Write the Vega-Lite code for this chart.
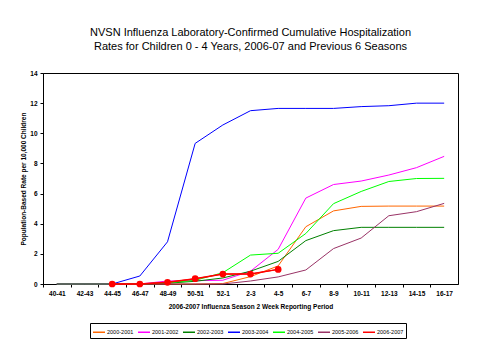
{
  "$schema": "https://vega.github.io/schema/vega-lite/v6.json",
  "width": 415,
  "height": 211,
  "autosize": "none",
  "padding": {"left": 43, "top": 73, "right": 21, "bottom": 76},
  "background": "white",
  "title": {
    "text": ["NVSN Influenza Laboratory-Confirmed Cumulative Hospitalization", "Rates for Children 0 - 4 Years, 2006-07 and Previous 6 Seasons"],
    "font": "Liberation Sans",
    "fontSize": 11,
    "fontWeight": "normal",
    "lineHeight": 14,
    "offset": 18,
    "anchor": "middle",
    "color": "black"
  },
  "config": {
    "view": {"stroke": "black", "strokeWidth": 1},
    "axis": {
      "domainColor": "black",
      "tickColor": "black",
      "labelColor": "black",
      "titleColor": "black",
      "labelFont": "Liberation Sans",
      "titleFont": "Liberation Sans",
      "labelFontWeight": "bold",
      "titleFontWeight": "bold",
      "grid": false,
      "tickSize": 3
    }
  },
  "datasets": {
    "rates": [
      {"week": "40-41", "season": "2000-2001", "rate": 0},
      {"week": "42-43", "season": "2000-2001", "rate": 0},
      {"week": "44-45", "season": "2000-2001", "rate": 0},
      {"week": "46-47", "season": "2000-2001", "rate": 0},
      {"week": "48-49", "season": "2000-2001", "rate": 0},
      {"week": "50-51", "season": "2000-2001", "rate": 0},
      {"week": "52-1", "season": "2000-2001", "rate": 0.03},
      {"week": "2-3", "season": "2000-2001", "rate": 0.49},
      {"week": "4-5", "season": "2000-2001", "rate": 1.2},
      {"week": "6-7", "season": "2000-2001", "rate": 3.8},
      {"week": "8-9", "season": "2000-2001", "rate": 4.85},
      {"week": "10-11", "season": "2000-2001", "rate": 5.15},
      {"week": "12-13", "season": "2000-2001", "rate": 5.17},
      {"week": "14-15", "season": "2000-2001", "rate": 5.17},
      {"week": "16-17", "season": "2000-2001", "rate": 5.17},

      {"week": "40-41", "season": "2001-2002", "rate": 0},
      {"week": "42-43", "season": "2001-2002", "rate": 0},
      {"week": "44-45", "season": "2001-2002", "rate": 0},
      {"week": "46-47", "season": "2001-2002", "rate": 0},
      {"week": "48-49", "season": "2001-2002", "rate": 0.2},
      {"week": "50-51", "season": "2001-2002", "rate": 0.22},
      {"week": "52-1", "season": "2001-2002", "rate": 0.25},
      {"week": "2-3", "season": "2001-2002", "rate": 0.85},
      {"week": "4-5", "season": "2001-2002", "rate": 2.3},
      {"week": "6-7", "season": "2001-2002", "rate": 5.7},
      {"week": "8-9", "season": "2001-2002", "rate": 6.6},
      {"week": "10-11", "season": "2001-2002", "rate": 6.83},
      {"week": "12-13", "season": "2001-2002", "rate": 7.23},
      {"week": "14-15", "season": "2001-2002", "rate": 7.72},
      {"week": "16-17", "season": "2001-2002", "rate": 8.47},

      {"week": "40-41", "season": "2002-2003", "rate": 0},
      {"week": "42-43", "season": "2002-2003", "rate": 0},
      {"week": "44-45", "season": "2002-2003", "rate": 0},
      {"week": "46-47", "season": "2002-2003", "rate": 0},
      {"week": "48-49", "season": "2002-2003", "rate": 0.05},
      {"week": "50-51", "season": "2002-2003", "rate": 0.18},
      {"week": "52-1", "season": "2002-2003", "rate": 0.4},
      {"week": "2-3", "season": "2002-2003", "rate": 0.85},
      {"week": "4-5", "season": "2002-2003", "rate": 1.5},
      {"week": "6-7", "season": "2002-2003", "rate": 2.88},
      {"week": "8-9", "season": "2002-2003", "rate": 3.54},
      {"week": "10-11", "season": "2002-2003", "rate": 3.76},
      {"week": "12-13", "season": "2002-2003", "rate": 3.76},
      {"week": "14-15", "season": "2002-2003", "rate": 3.76},
      {"week": "16-17", "season": "2002-2003", "rate": 3.76},

      {"week": "40-41", "season": "2003-2004", "rate": 0},
      {"week": "42-43", "season": "2003-2004", "rate": 0},
      {"week": "44-45", "season": "2003-2004", "rate": 0},
      {"week": "46-47", "season": "2003-2004", "rate": 0.53},
      {"week": "48-49", "season": "2003-2004", "rate": 2.8},
      {"week": "50-51", "season": "2003-2004", "rate": 9.33},
      {"week": "52-1", "season": "2003-2004", "rate": 10.55},
      {"week": "2-3", "season": "2003-2004", "rate": 11.5},
      {"week": "4-5", "season": "2003-2004", "rate": 11.65},
      {"week": "6-7", "season": "2003-2004", "rate": 11.65},
      {"week": "8-9", "season": "2003-2004", "rate": 11.65},
      {"week": "10-11", "season": "2003-2004", "rate": 11.77},
      {"week": "12-13", "season": "2003-2004", "rate": 11.83},
      {"week": "14-15", "season": "2003-2004", "rate": 12.0},
      {"week": "16-17", "season": "2003-2004", "rate": 12.0},

      {"week": "40-41", "season": "2004-2005", "rate": 0},
      {"week": "42-43", "season": "2004-2005", "rate": 0},
      {"week": "44-45", "season": "2004-2005", "rate": 0},
      {"week": "46-47", "season": "2004-2005", "rate": 0},
      {"week": "48-49", "season": "2004-2005", "rate": 0.09},
      {"week": "50-51", "season": "2004-2005", "rate": 0.24},
      {"week": "52-1", "season": "2004-2005", "rate": 0.75},
      {"week": "2-3", "season": "2004-2005", "rate": 1.92},
      {"week": "4-5", "season": "2004-2005", "rate": 2.04},
      {"week": "6-7", "season": "2004-2005", "rate": 3.35},
      {"week": "8-9", "season": "2004-2005", "rate": 5.33},
      {"week": "10-11", "season": "2004-2005", "rate": 6.14},
      {"week": "12-13", "season": "2004-2005", "rate": 6.8},
      {"week": "14-15", "season": "2004-2005", "rate": 7.0},
      {"week": "16-17", "season": "2004-2005", "rate": 7.01},

      {"week": "40-41", "season": "2005-2006", "rate": 0},
      {"week": "42-43", "season": "2005-2006", "rate": 0},
      {"week": "44-45", "season": "2005-2006", "rate": 0},
      {"week": "46-47", "season": "2005-2006", "rate": 0},
      {"week": "48-49", "season": "2005-2006", "rate": 0},
      {"week": "50-51", "season": "2005-2006", "rate": 0},
      {"week": "52-1", "season": "2005-2006", "rate": 0},
      {"week": "2-3", "season": "2005-2006", "rate": 0.2},
      {"week": "4-5", "season": "2005-2006", "rate": 0.47},
      {"week": "6-7", "season": "2005-2006", "rate": 0.93},
      {"week": "8-9", "season": "2005-2006", "rate": 2.35},
      {"week": "10-11", "season": "2005-2006", "rate": 3.05},
      {"week": "12-13", "season": "2005-2006", "rate": 4.53},
      {"week": "14-15", "season": "2005-2006", "rate": 4.8},
      {"week": "16-17", "season": "2005-2006", "rate": 5.35},

      {"week": "44-45", "season": "2006-2007", "rate": 0},
      {"week": "46-47", "season": "2006-2007", "rate": 0},
      {"week": "48-49", "season": "2006-2007", "rate": 0.11},
      {"week": "50-51", "season": "2006-2007", "rate": 0.35},
      {"week": "52-1", "season": "2006-2007", "rate": 0.66},
      {"week": "2-3", "season": "2006-2007", "rate": 0.66},
      {"week": "4-5", "season": "2006-2007", "rate": 0.97}
    ]
  },
  "data": {"name": "rates"},
  "encoding": {
    "x": {
      "field": "week",
      "type": "ordinal",
      "sort": ["40-41","42-43","44-45","46-47","48-49","50-51","52-1","2-3","4-5","6-7","8-9","10-11","12-13","14-15","16-17"],
      "scale": {"type": "band", "paddingInner": 0, "paddingOuter": 0},
      "axis": {
        "title": "2006-2007 Influenza Season 2 Week Reporting Period",
        "titleFontSize": 6.5,
        "titlePadding": 7,
        "labelAngle": 0,
        "labelFontSize": 6.5,
        "labelPadding": 3,
        "tickOffset": -13.83,
        "labelOffset": 13.83
      }
    },
    "y": {
      "field": "rate",
      "type": "quantitative",
      "scale": {"domain": [0, 14], "nice": false},
      "axis": {
        "title": "Population-Based Rate per 10,000 Children",
        "titleFontSize": 6.5,
        "titlePadding": 3,
        "labelFontSize": 6.5,
        "labelPadding": 3,
        "values": [0, 2, 4, 6, 8, 10, 12, 14]
      }
    },
    "color": {
      "field": "season",
      "type": "nominal",
      "scale": {
        "domain": ["2000-2001","2001-2002","2002-2003","2003-2004","2004-2005","2005-2006","2006-2007"],
        "range": ["#FF6600","#FF00FF","#008000","#0000FF","#00FF00","#993366","#FF0000"]
      },
      "legend": {
        "title": null,
        "orient": "none",
        "legendX": 47,
        "legendY": 250,
        "direction": "horizontal",
        "columns": 7,
        "symbolType": "stroke",
        "symbolSize": 144,
        "symbolStrokeWidth": 1.5,
        "symbolOpacity": 1,
        "labelFont": "Liberation Sans",
        "labelFontSize": 5.5,
        "labelColor": "black",
        "labelOffset": 1,
        "columnPadding": 1,
        "strokeColor": "black",
        "padding": 2,
        "fillColor": "white"
      }
    }
  },
  "layer": [
    {
      "mark": {"type": "line", "strokeWidth": 1, "interpolate": "linear"}
    },
    {
      "transform": [{"filter": "datum.season == '2006-2007'"}],
      "mark": {"type": "line", "strokeWidth": 1.5}
    },
    {
      "transform": [{"filter": "datum.season == '2006-2007'"}],
      "mark": {"type": "point", "filled": true, "shape": "circle", "size": 45, "opacity": 1, "color": "#FF0000"},
      "encoding": {"color": {"value": "#FF0000"}}
    }
  ]
}
